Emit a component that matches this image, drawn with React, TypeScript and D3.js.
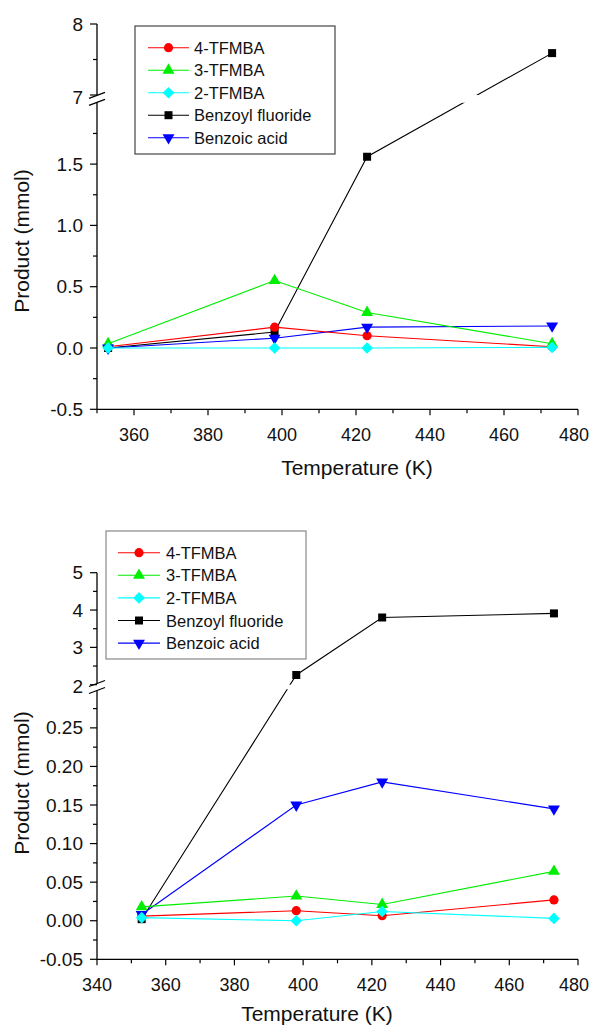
import * as d3 from 'd3';

const temperatures = [353, 398, 423, 473];
const seriesNames = ['4-TFMBA', '3-TFMBA', '2-TFMBA', 'Benzoyl fluoride', 'Benzoic acid'];
const seriesColors = ['#ff0000', '#00ee00', '#00ffff', '#000000', '#0000ff'];
const seriesShapes = ['circle', 'triangle', 'diamond', 'square', 'triangleDown'];

// upper panel (mmol)
const topTFMBA4 = [0.01, 0.17, 0.10, 0.01];
const topTFMBA3 = [0.035, 0.55, 0.29, 0.035];
const topTFMBA2 = [0.0, 0.0, 0.0, 0.005];
const topBenzoylF = [0.0, 0.13, 1.56, 7.59];
const topBenzoicAcid = [0.0, 0.08, 0.17, 0.18];

const topXMajor = [360, 380, 400, 420, 440, 460, 480];
const topXMinor = [350, 370, 390, 410, 430, 450, 470];
const topLowerMajor = [-0.5, 0, 0.5, 1.0, 1.5];
const topLowerMinor = [-0.25, 0.25, 0.75, 1.25, 1.75];
const topUpperMajor = [7, 8];
const topUpperMinor = [7.5];

// lower panel (mmol)
const botTFMBA4 = [0.006, 0.013, 0.0065, 0.027];
const botTFMBA3 = [0.018, 0.032, 0.021, 0.064];
const botTFMBA2 = [0.004, 0.0, 0.012, 0.003];
const botBenzoylF = [0.002, 2.26, 3.80, 3.91];
const botBenzoicAcid = [0.008, 0.15, 0.18, 0.145];

const botXMajor = [340, 360, 380, 400, 420, 440, 460, 480];
const botXMinor = [350, 370, 390, 410, 430, 450, 470];
const botLowerMajor = [-0.05, 0, 0.05, 0.10, 0.15, 0.20, 0.25];
const botLowerMinor = [-0.025, 0.025, 0.075, 0.125, 0.175, 0.225, 0.275];
const botUpperMajor = [2, 3, 4, 5];
const botUpperMinor = [2.5, 3.5, 4.5];

const FONT = 'Liberation Sans, Arial, Helvetica, sans-serif';

function Marker({ shape, color, x, y }) {
  if (shape === 'circle') return <circle cx={x} cy={y} r={4.6} fill={color} />;
  if (shape === 'square') return <rect x={x - 4} y={y - 4} width={8} height={8} fill={color} />;
  if (shape === 'diamond')
    return <path d={`M${x},${y - 5.8}L${x + 5.8},${y}L${x},${y + 5.8}L${x - 5.8},${y}Z`} fill={color} />;
  const tri = d3.symbol(d3.symbolTriangle, 62)();
  const rot = shape === 'triangleDown' ? 180 : 0;
  return <path d={tri} transform={`translate(${x},${y}) rotate(${rot})`} fill={color} />;
}

function Panel({ id, series, xDomain, xMajor, xMinor, lowerDomain, lowerRange, upperDomain, upperRange,
  lowerMajor, lowerMinor, upperMajor, upperMinor, digits, xRange, legend, xTitle, yTitle, legendStroke }) {
  const x = d3.scaleLinear().domain(xDomain).range(xRange);
  const yLow = d3.scaleLinear().domain(lowerDomain).range(lowerRange);
  const yUp = d3.scaleLinear().domain(upperDomain).range(upperRange);
  const yv = (v) => (v >= upperDomain[0] ? yUp(v) : yLow(v));
  const axisX = xRange[0];
  const axisY = lowerRange[0];
  const gapTop = upperRange[0];
  const gapBot = lowerRange[1];
  const mid = (gapTop + gapBot) / 2;
  const line = d3.line<number>().x((_, i) => x(temperatures[i])).y((v) => yv(v));
  const order = [3, 4, 0, 1, 2];
  const markerOrder = [3, 0, 1, 4, 2];
  const clipId = `clip-${id}`;

  return (
    <g fontFamily={FONT}>
      <defs>
        <clipPath id={clipId}>
          <rect x={axisX - 20} y={upperRange[1] - 20} width={xRange[1] - axisX + 40} height={gapTop - upperRange[1] + 20} />
          <rect x={axisX - 20} y={gapBot} width={xRange[1] - axisX + 40} height={axisY - gapBot + 20} />
        </clipPath>
      </defs>

      {/* lines */}
      <g clipPath={`url(#${clipId})`}>
        {order.map((k) => (
          <path key={k} d={line(series[k])} fill="none" stroke={seriesColors[k]} strokeWidth={1.1} />
        ))}
      </g>

      {/* markers */}
      {markerOrder.map((k) => (
        <g key={k}>
          {series[k].map((v, i) => (
            <Marker key={i} shape={seriesShapes[k]} color={seriesColors[k]} x={x(temperatures[i])} y={yv(v)} />
          ))}
        </g>
      ))}

      {/* x axis */}
      <line x1={axisX} x2={xRange[1]} y1={axisY} y2={axisY} stroke="#000" strokeWidth={1.3} />
      {xMajor.map((t) => (
        <g key={t}>
          <line x1={x(t)} x2={x(t)} y1={axisY} y2={axisY + 6} stroke="#000" strokeWidth={1.2} />
          <text x={Math.min(x(t), 574)} y={axisY + 26} fontSize={18} textAnchor="middle" dominantBaseline="central" fill="#111">
            {t}
          </text>
        </g>
      ))}
      {xMinor.map((t) => (
        <line key={t} x1={x(t)} x2={x(t)} y1={axisY} y2={axisY + 4} stroke="#000" strokeWidth={1.2} />
      ))}

      {/* y axis, lower segment */}
      <line x1={axisX} x2={axisX} y1={axisY} y2={mid + 3.5} stroke="#000" strokeWidth={1.3} />
      {lowerMajor.map((t) => (
        <g key={t}>
          <line x1={axisX - 7} x2={axisX} y1={yLow(t)} y2={yLow(t)} stroke="#000" strokeWidth={1.2} />
          <text x={axisX - 14} y={yLow(t)} fontSize={19} textAnchor="end" dominantBaseline="central" fill="#111">
            {t.toFixed(digits)}
          </text>
        </g>
      ))}
      {lowerMinor.map((t) => (
        <line key={t} x1={axisX - 4} x2={axisX} y1={yLow(t)} y2={yLow(t)} stroke="#000" strokeWidth={1.2} />
      ))}

      {/* y axis, upper segment */}
      <line x1={axisX} x2={axisX} y1={mid - 3.5} y2={upperRange[1]} stroke="#000" strokeWidth={1.3} />
      {upperMajor.map((t) => (
        <g key={t}>
          <line x1={axisX - 7} x2={axisX} y1={yUp(t)} y2={yUp(t)} stroke="#000" strokeWidth={1.2} />
          <text x={axisX - 14} y={yUp(t) + (t === upperDomain[0] ? 2 : 0)} fontSize={19} textAnchor="end" dominantBaseline="central" fill="#111">
            {t}
          </text>
        </g>
      ))}
      {upperMinor.map((t) => (
        <line key={t} x1={axisX - 4} x2={axisX} y1={yUp(t)} y2={yUp(t)} stroke="#000" strokeWidth={1.2} />
      ))}

      {/* break marks */}
      <line x1={axisX - 8} y1={mid - 0.5} x2={axisX + 8} y2={mid - 6.5} stroke="#000" strokeWidth={1.3} />
      <line x1={axisX - 8} y1={mid + 6.5} x2={axisX + 8} y2={mid + 0.5} stroke="#000" strokeWidth={1.3} />

      {/* axis titles */}
      <text x={xTitle[0]} y={xTitle[1]} fontSize={21} textAnchor="middle" dominantBaseline="central" fill="#111">
        Temperature (K)
      </text>
      <text
        transform={`translate(${yTitle[0]},${yTitle[1]}) rotate(-90)`}
        fontSize={21}
        textAnchor="middle"
        dominantBaseline="central"
        fill="#111"
      >
        Product (mmol)
      </text>

      {/* legend */}
      <rect x={legend.x} y={legend.y} width={legend.w} height={legend.h} fill="#fff" stroke={legendStroke} strokeWidth={1.2} />
      {seriesNames.map((name, k) => {
        const ry = legend.row0 + k * legend.gap;
        const mx = (legend.line0 + legend.line1) / 2;
        return (
          <g key={name}>
            <line x1={legend.line0} x2={legend.line1} y1={ry} y2={ry} stroke={seriesColors[k]} strokeWidth={1.1} />
            <Marker shape={seriesShapes[k]} color={seriesColors[k]} x={mx} y={ry} />
            <text x={legend.textX} y={ry} fontSize={16.5} dominantBaseline="central" fill="#111">
              {name}
            </text>
          </g>
        );
      })}
    </g>
  );
}

export default function App() {
  const topSeries = [topTFMBA4, topTFMBA3, topTFMBA2, topBenzoylF, topBenzoicAcid];
  const botSeries = [botTFMBA4, botTFMBA3, botTFMBA2, botBenzoylF, botBenzoicAcid];
  return (
    <svg width={591} height={1028} style={{ position: 'absolute', left: 0, top: 0, background: '#fff' }}>
      <Panel
        id="top"
        series={topSeries}
        xDomain={[350, 480]}
        xRange={[97, 578]}
        xMajor={topXMajor}
        xMinor={topXMinor}
        lowerDomain={[-0.5, 2.0]}
        lowerRange={[409.3, 102.8]}
        upperDomain={[7, 8]}
        upperRange={[95, 24]}
        lowerMajor={topLowerMajor}
        lowerMinor={topLowerMinor}
        upperMajor={topUpperMajor}
        upperMinor={topUpperMinor}
        digits={1}
        legend={{ x: 135, y: 26, w: 200, h: 128, row0: 47.7, gap: 22.5, line0: 148, line1: 189, textX: 194 }}
        legendStroke="#444"
        xTitle={[357, 467]}
        yTitle={[21, 241]}
      />
      <Panel
        id="bot"
        series={botSeries}
        xDomain={[340, 480]}
        xRange={[97, 578]}
        xMajor={botXMajor}
        xMinor={botXMinor}
        lowerDomain={[-0.05, 0.30]}
        lowerRange={[959.3, 689.3]}
        upperDomain={[2, 5]}
        upperRange={[684.7, 572.7]}
        lowerMajor={botLowerMajor}
        lowerMinor={botLowerMinor}
        upperMajor={botUpperMajor}
        upperMinor={botUpperMinor}
        digits={2}
        legend={{ x: 106, y: 531, w: 200, h: 128, row0: 552.7, gap: 22.6, line0: 118, line1: 160, textX: 166 }}
        legendStroke="#888"
        xTitle={[317, 1013]}
        yTitle={[21, 783]}
      />
    </svg>
  );
}
